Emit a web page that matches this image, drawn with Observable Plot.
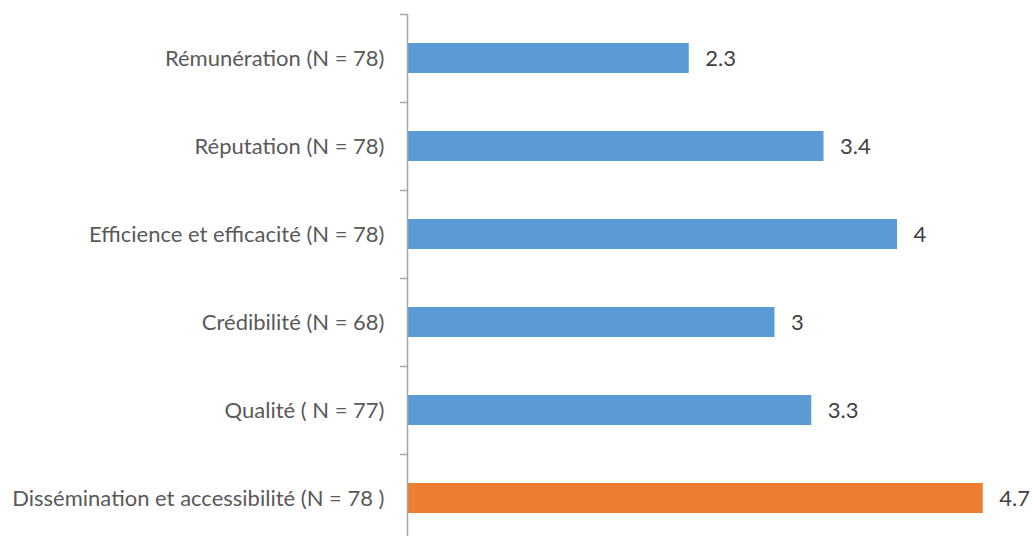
<!DOCTYPE html>
<html>
<head>
<meta charset="utf-8">
<script src="https://cdn.jsdelivr.net/npm/d3@7"></script>
<script src="https://cdn.jsdelivr.net/npm/@observablehq/plot@0.6"></script>
<style>
  html, body { margin: 0; padding: 0; background: #fff; }
  #chart svg { display: block; }
</style>
</head>
<body>
<div id="chart"></div>
<script>
const categories = [
  "Rémunération (N = 78)",
  "Réputation (N = 78)",
  "Efficience et efficacité (N = 78)",
  "Crédibilité (N = 68)",
  "Qualité ( N = 77)",
  "Dissémination et accessibilité (N = 78 )"
];
const values = [2.3, 3.4, 4, 3, 3.3, 4.7];
const valueLabels = ["2.3", "3.4", "4", "3", "3.3", "4.7"];
const highlight = [false, false, false, false, false, true];

const data = categories.map((c, i) => ({
  category: c, value: values[i], label: valueLabels[i], hi: highlight[i]
}));

const bandStep = 88;
const chart = Plot.plot({
  width: 1032,
  height: 536,
  marginLeft: 407,
  marginRight: 12.5,
  marginTop: 0,
  marginBottom: 0,
  style: { fontFamily: "Lato, 'Open Sans', sans-serif", background: "#fff" },
  x: { domain: [0, 5], axis: null },
  y: { domain: categories, range: [14, 14 + bandStep * categories.length], paddingInner: 0.66, paddingOuter: 0.33, align: 0.5, axis: null },
  color: { domain: [false, true], range: ["#5B9BD5", "#ED7D31"] },
  marks: [
    Plot.barX(data, { y: "category", x: "value", fill: "hi" }),
    Plot.ruleX([0], { insetTop: 14, stroke: "#a6a6a6", strokeWidth: 1.5 }),
    Plot.ruleY(categories, { y: d => d, x1: -0.057, x2: 0, dy: -bandStep / 2, stroke: "#a6a6a6", strokeWidth: 1.5 }),
    Plot.text(data, { y: "category", x: 0, text: "category", textAnchor: "end", dx: -23, fill: "#595959", fontSize: 22 }),
    Plot.text(data, { y: "category", x: "value", text: "label", textAnchor: "start", dx: 16, fill: "#404040", fontSize: 22 })
  ]
});
document.getElementById("chart").appendChild(chart);
</script>
</body>
</html>
